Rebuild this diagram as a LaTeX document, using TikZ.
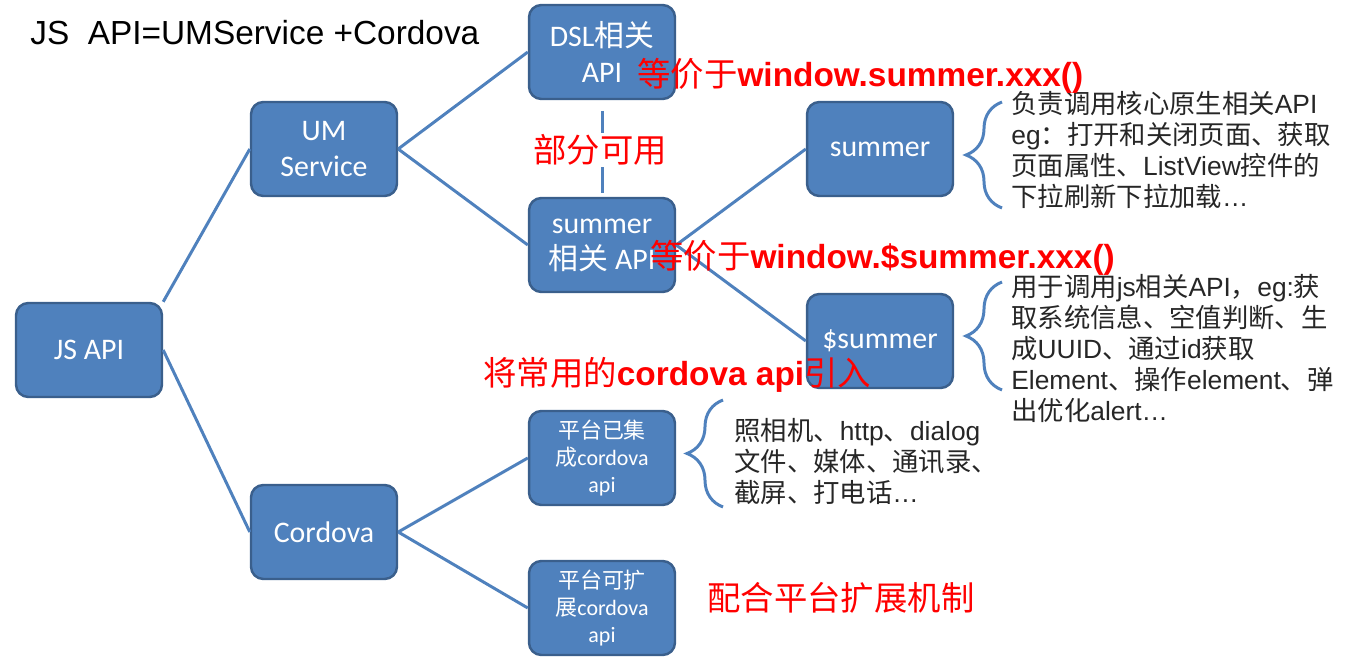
\documentclass[tikz,border=0pt]{standalone}
\usepackage{fontspec}
\setmainfont{Liberation Sans}
\newfontfamily\cjkfont{Noto Sans CJK SC}
\newfontfamily\boxfont{Carlito}
\usetikzlibrary{decorations.pathreplacing}
\definecolor{boxblue}{HTML}{4F81BD}
\definecolor{boxedge}{HTML}{3A5F8C}
\newcommand{\zh}[1]{{\cjkfont #1}}
\newcommand{\zhred}[1]{{\mdseries\cjkfont #1}}
\begin{document}
\begin{tikzpicture}[x=0.02cm, y=-0.02cm,
            box/.style={rectangle, rounded corners=7pt, fill=boxblue, draw=boxedge, line width=1.4pt,
                        minimum width=2.92cm, minimum height=1.88cm, text=white, align=center,
                        font=\boxfont\fontsize{17}{20.5}\selectfont},
            smallbox/.style={box, font=\boxfont\fontsize{12.5}{15.4}\selectfont},
            link/.style={draw=boxblue, line width=1.7pt},
            curly/.style={draw=boxblue, line width=1.7pt, decorate, decoration={brace, amplitude=0.72cm}},
            note/.style={anchor=north west, inner sep=0pt, align=left, text=black!85,
                         font=\fontsize{15}{17.6}\selectfont},
            remark/.style={text=red, inner sep=0pt, font=\bfseries\fontsize{19}{22}\selectfont}
            ]
            \useasboundingbox (0,0) rectangle (1349,658);

            \node[anchor=west, inner sep=0pt, font=\fontsize{19}{22}\selectfont] (title) at (30,33) {JS\ \ API=UMService +Cordova};

            \node[box] (js) at (89,350) {JS API};
            \node[box] (um) at (324,149) {UM\\Service};
            \node[box] (cordova) at (324,532) {Cordova};
            \node[box] (dsl) at (602,52) {DSL\zh{相关}\\API};
            \node[box] (sapi) at (602,245) {summer\\\zh{相关} API};
            \node[box] (summer) at (880,149) {summer};
            \node[box] (dsummer) at (880,341) {\$summer};
            \node[smallbox] (builtin) at (602,458) {\zh{平台已集}\\\zh{成}cordova\\api};
            \node[smallbox] (extend) at (602,608) {\zh{平台可扩}\\\zh{展}cordova\\api};

            \draw[link] (js.north east) -- (um.west);
            \draw[link] (js.east) -- (cordova.west);
            \draw[link] (um.east) -- (dsl.west);
            \draw[link] (um.east) -- (sapi.west);
            \draw[link] (sapi.east) -- (summer.west);
            \draw[link] (sapi.east) -- (dsummer.west);
            \draw[link] (cordova.east) -- (builtin.west);
            \draw[link] (cordova.east) -- (extend.west);
            \draw[link, shorten <=6pt, shorten >=2pt] (dsl.south) -- (sapi.north);

            \coordinate (b1top) at (1002,102);
            \coordinate (b1bot) at (1002,208);
            \coordinate (b2top) at (1002,282);
            \coordinate (b2bot) at (1002,390);
            \coordinate (b3top) at (723,400);
            \coordinate (b3bot) at (723,507);
            \draw[curly] (b1bot) -- (b1top);
            \draw[curly] (b2bot) -- (b2top);
            \draw[curly] (b3bot) -- (b3top);

            \node[note] (summernote) at (1011,91) {\zh{负责调用核心原生相关}API\\
                eg\zh{：打开和关闭页面、获取}\\
                \zh{页面属性、}ListView\zh{控件的}\\
                \zh{下拉刷新下拉加载}…};
            \node[note] (dsummernote) at (1011,274) {\zh{用于调用}js\zh{相关}API\zh{，}eg:\zh{获}\\
                \zh{取系统信息、空值判断、生}\\
                \zh{成}UUID\zh{、通过}id\zh{获取}\\
                Element\zh{、操作}element\zh{、弹}\\
                \zh{出优化}alert…};
            \node[note] (cordovanote) at (734,418) {\zh{照相机、}http\zh{、}dialog\\
                \zh{文件、媒体、通讯录、}\\
                \zh{截屏、打电话}…};

            \node[remark, anchor=west] (same1) at (637,76) {\zhred{等价于}window.summer.xxx()};
            \node[remark, fill=white, inner sep=1pt] (partial) at (600,150) {\zhred{部分可用}};
            \node[remark, anchor=west] (same2) at (650,258) {\zhred{等价于}window.\$summer.xxx()};
            \node[remark, anchor=west] (bring) at (483,375) {\zhred{将常用的}cordova api\zhred{引入}};
            \node[remark, anchor=west] (ext) at (707,598) {\zhred{配合平台扩展机制}};
            \end{tikzpicture}
\end{document}
